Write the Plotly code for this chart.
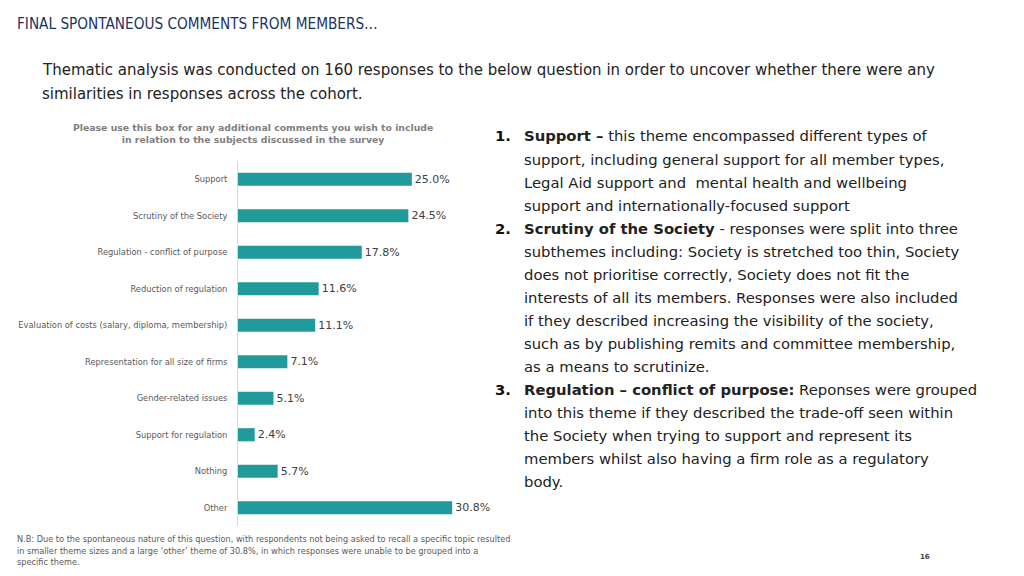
import plotly.graph_objects as go

# chart data, top to bottom
themes = [
    "Support",
    "Scrutiny of the Society",
    "Regulation - conflict of purpose",
    "Reduction of regulation",
    "Evaluation of costs (salary, diploma, membership)",
    "Representation for all size of firms",
    "Gender-related issues",
    "Support for regulation",
    "Nothing",
    "Other",
]
shares = [25.0, 24.5, 17.8, 11.6, 11.1, 7.1, 5.1, 2.4, 5.7, 30.8]

# the page body adds an 8px margin, so the figure is drawn 8px in
OFF = 8
W, H = 1024 - 2 * OFF, 576 - 2 * OFF
TEAL = "#219a9b"
FONT = "DejaVu Sans, Lato, sans-serif"


def px_x(x):
    return (x - OFF) / W


def px_y(y):
    return 1 - (y - OFF) / H


fig = go.Figure()
fig.add_trace(go.Bar(
    x=shares, y=themes, orientation="h",
    marker=dict(color=TEAL, line=dict(width=0)),
    text=shares, texttemplate="%{x:.1f}%", textposition="outside",
    textfont=dict(size=11, color="#404040", family=FONT),
    cliponaxis=False, width=0.36,
))

fig.update_layout(
    width=W, height=H,
    margin=dict(l=0, r=0, t=0, b=0),
    paper_bgcolor="white", plot_bgcolor="white",
    showlegend=False,
    font=dict(family=FONT),
    xaxis=dict(domain=[px_x(238), px_x(480)], range=[0, 34.8],
               visible=False, fixedrange=True),
    yaxis=dict(domain=[px_y(526), px_y(161)], autorange="reversed",
               showline=True, linecolor="#d9d9d9", linewidth=1,
               showgrid=False, ticks="", ticklabelstandoff=8,
               tickfont=dict(size=8.3, color="#595959", family=FONT)),
)

anns = []


def text(x, y, s, size, color="#222222", xanchor="left", **kw):
    anns.append(dict(xref="paper", yref="paper", x=px_x(x), y=px_y(y),
                     text=s, showarrow=False, xanchor=xanchor,
                     yanchor="middle", font=dict(size=size, color=color,
                                                 family=kw.pop("family", FONT)),
                     **kw))


# page title
text(15, 24, "FINAL SPONTANEOUS COMMENTS FROM MEMBERS…", 15.2, "#1a3366",
     family="Liberation Sans Narrow, DejaVu Sans Condensed, sans-serif")

# intro
text(40, 70, "Thematic analysis was conducted on 160 responses to the below question in order to uncover whether there were any", 15)
text(40, 94, "similarities in responses across the cohort.", 15)

# question heading
text(253, 134, "<b>Please use this box for any additional comments you wish to include<br>in relation to the subjects discussed in the survey</b>",
     9.3, "#7f7f7f", xanchor="center", align="center")

# right-hand commentary
lines = [
    ("1.", "<b>Support –</b> this theme encompassed different types of"),
    ("", "support, including general support for all member types,"),
    ("", "Legal Aid support and  mental health and wellbeing"),
    ("", "support and internationally-focused support"),
    ("2.", "<b>Scrutiny of the Society</b> - responses were split into three"),
    ("", "subthemes including: Society is stretched too thin, Society"),
    ("", "does not prioritise correctly, Society does not fit the"),
    ("", "interests of all its members. Responses were also included"),
    ("", "if they described increasing the visibility of the society,"),
    ("", "such as by publishing remits and committee membership,"),
    ("", "as a means to scrutinize."),
    ("3.", "<b>Regulation – conflict of purpose:</b> Reponses were grouped"),
    ("", "into this theme if they described the trade-off seen within"),
    ("", "the Society when trying to support and represent its"),
    ("", "members whilst also having a firm role as a regulatory"),
    ("", "body."),
]
for i, (num, line) in enumerate(lines):
    y = 136 + i * 23.05
    if num:
        text(493, y, "<b>" + num + "</b>", 14.8, "#111111")
    text(522, y, line, 14.8, "#222222")

# footnote
foot = [
    "N.B: Due to the spontaneous nature of this question, with respondents not being asked to recall a specific topic resulted",
    "in smaller theme sizes and a large ‘other’ theme of 30.8%, in which responses were unable to be grouped into a",
    "specific theme.",
]
for i, line in enumerate(foot):
    text(15, 539 + i * 11.6, line, 8.2, "#595959")

text(925, 557, "<b>16</b>", 7, "#404040", xanchor="center")

fig.update_layout(annotations=anns)
fig.write_html("out.html")
